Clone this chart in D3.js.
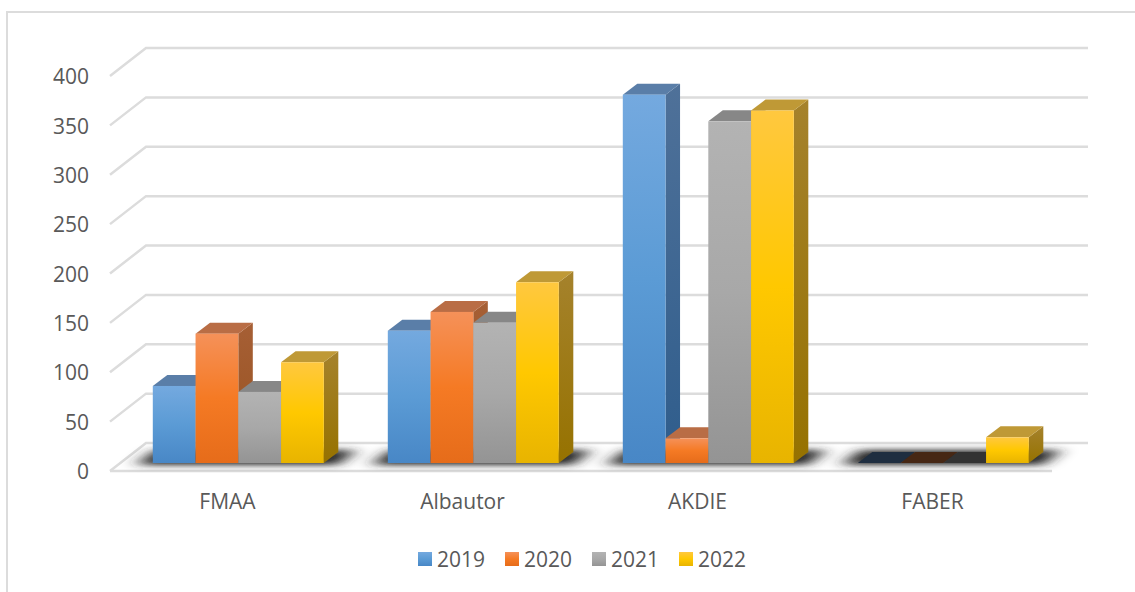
<!DOCTYPE html>
<html>
<head>
<meta charset="utf-8">
<script src="https://cdn.jsdelivr.net/npm/d3@7"></script>
<style>
    html, body { margin: 0; padding: 0; background: #fff; overflow: hidden; }
    text { font-family: "Open Sans", sans-serif; fill: #595959; }
</style>
</head>
<body>
<script>
const categories = ["FMAA", "Albautor", "AKDIE", "FABER"]
const years = ["2019", "2020", "2021", "2022"]
const values2019 = [78, 134, 373, 0]
const values2020 = [131, 153, 25, 0]
const values2021 = [72, 142, 346, 0]
const values2022 = [102, 183, 357, 26]
const yTicks = [0, 50, 100, 150, 200, 250, 300, 350, 400]

const seriesValues = [values2019, values2020, values2021, values2022]

const w = 1135, h = 592

// colours per series: front gradient, side gradient, top, flat top for zero bars
const colors = [
    { front: ["#74a9df", "#5b9bd5", "#4887c6"], side: ["#4f7199", "#2f5d8c"], top: "#5a7ea8", flat: "#1f2e40" },
    { front: ["#f59159", "#f57a24", "#e66c1a"], side: ["#a65f35", "#98521f"], top: "#b96d45", flat: "#462714" },
    { front: ["#b3b3b3", "#a8a8a8", "#949494"], side: ["#757575", "#666666"], top: "#878787", flat: "#333333" },
    { front: ["#ffc83f", "#ffc800", "#e8b400"], side: ["#a5822c", "#967200"], top: "#bf9936", flat: "#4d3c08" }
]

let svg = d3.select("body").append("svg")
    .attr("width", w)
    .attr("height", h)
    .style("display", "block")

let defs = svg.append("defs")

let addGradient = (id, stops) => {
    let g = defs.append("linearGradient")
        .attr("id", id)
        .attr("x1", 0).attr("y1", 0)
        .attr("x2", 0).attr("y2", 1)
    stops.forEach((c, i) => {
        g.append("stop")
            .attr("offset", i / (stops.length - 1))
            .attr("stop-color", c)
    })
}

colors.forEach((c, i) => {
    addGradient("front" + i, c.front)
    addGradient("side" + i, c.side)
})

defs.append("filter")
    .attr("id", "shadow")
    .attr("filterUnits", "userSpaceOnUse")
    .attr("x", 0).attr("y", 400)
    .attr("width", w).attr("height", 100)
    .append("feGaussianBlur")
    .attr("stdDeviation", "9 3")

// outer frame, open on the right
svg.append("path")
    .attr("d", "M7,592V12H1135")
    .attr("fill", "none")
    .attr("stroke", "#dcdcdc")
    .attr("stroke-width", 2)

// plot geometry
let left = 110, right = 1052
let floorY = 471, topY = 76
let wallDx = 36, wallDy = -28   // front of floor to the back wall
let barDx = 10.8, barDy = -8    // front of floor to the front of a bar
let depthDx = 14.5, depthDy = -11

let y = d3.scaleLinear().domain([0, 400]).range([floorY, topY])
let x = d3.scaleBand().domain(categories).range([left, 1050])
let xInner = d3.scaleBand().domain(years).range([0, x.bandwidth()]).paddingOuter(0.7485)

// gridlines on the side wall and back wall
let grid = svg.append("g")
    .attr("fill", "none")
    .attr("stroke", "#dcdcdc")
    .attr("stroke-width", 2.5)

grid.selectAll("path")
    .data(yTicks)
    .join("path")
    .attr("d", d => "M" + left + "," + y(d)
        + "L" + (left + wallDx) + "," + (y(d) + wallDy)
        + "H" + (right + wallDx))

// front edge of the floor
grid.append("line")
    .attr("x1", left).attr("x2", right)
    .attr("y1", y(0)).attr("y2", y(0))

// one row of bars for each category
categories.forEach((cat, ci) => {
    let bx0 = x(cat) + xInner(years[0]) + barDx
    let bx1 = x(cat) + xInner(years[3]) + xInner.bandwidth() + barDx
    let by = y(0) + barDy

    // shadow on the floor
    svg.append("path")
        .attr("d", "M" + (bx0 - 16) + "," + (by + 2)
            + "L" + (bx0 + 2) + "," + (by + depthDy - 2)
            + "L" + (bx1 + 32) + "," + (by + depthDy - 2)
            + "L" + (bx1 + 14) + "," + (by + 2) + "Z")
        .attr("fill", "#262626")
        .attr("filter", "url(#shadow)")

    years.forEach((yr, si) => {
        let v = seriesValues[si][ci]
        let x0 = x(cat) + xInner(yr) + barDx
        let bw = xInner.bandwidth()
        let y0 = y(0) + barDy
        let y1 = y(v) + barDy
        let c = colors[si]
        let g = svg.append("g")

        // zero values only show a dark flat top
        if (v === 0) {
            g.append("path")
                .attr("d", "M" + x0 + "," + y0 + "h" + bw
                    + "l" + depthDx + "," + depthDy + "h" + (-bw) + "Z")
                .attr("fill", c.flat)
            return
        }

        g.append("path")
            .attr("d", "M" + (x0 + bw) + "," + y0 + "V" + y1
                + "l" + depthDx + "," + depthDy
                + "V" + (y0 + depthDy) + "Z")
            .attr("fill", "url(#side" + si + ")")
        g.append("path")
            .attr("d", "M" + x0 + "," + y1 + "h" + bw
                + "l" + depthDx + "," + depthDy + "h" + (-bw) + "Z")
            .attr("fill", c.top)
        g.append("rect")
            .attr("x", x0)
            .attr("y", y1)
            .attr("width", bw)
            .attr("height", y0 - y1)
            .attr("fill", "url(#front" + si + ")")
    })
})

// y axis labels
let yAxis = svg.append("g")
    .attr("transform", "translate(89, 1)")
    .call(d3.axisLeft(y).tickValues(yTicks).tickSize(0).tickPadding(0))
yAxis.select(".domain").remove()
yAxis.selectAll("text").style("font-size", "21px").style("font-family", "'Open Sans', sans-serif").attr("fill", "#595959")

// category labels
let xAxis = svg.append("g")
    .attr("transform", "translate(0, 494)")
    .call(d3.axisBottom(x).tickSize(0).tickPadding(0))
xAxis.select(".domain").remove()
xAxis.selectAll("text").style("font-size", "21px").style("font-family", "'Open Sans', sans-serif").attr("fill", "#595959")

// legend
let legendX = d3.scalePoint().domain(years).range([418, 679])
let legend = svg.append("g")
    .selectAll("g")
    .data(years)
    .join("g")
    .attr("transform", d => "translate(" + legendX(d) + ", 552)")
legend.append("rect")
    .attr("width", 14)
    .attr("height", 14)
    .attr("fill", (d, i) => "url(#front" + i + ")")
legend.append("text")
    .attr("x", 19)
    .attr("y", 7)
    .attr("dy", "0.36em")
    .style("font-size", "21px")
    .text(d => d)
</script>
</body>
</html>
